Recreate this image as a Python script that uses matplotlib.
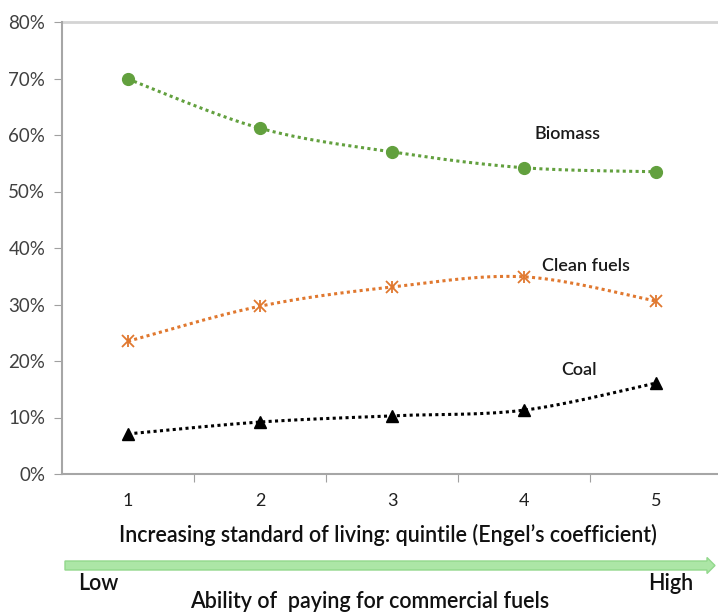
import numpy as np
import matplotlib.pyplot as plt
from matplotlib.patches import FancyArrow

# Data (share of households, %)
quintiles = [1, 2, 3, 4, 5]
biomass = [69.9, 61.2, 57.0, 54.2, 53.5]
clean_fuels = [23.5, 29.7, 33.1, 34.9, 30.6]
coal = [7.1, 9.2, 10.3, 11.3, 16.1]
y_ticks = [0, 10, 20, 30, 40, 50, 60, 70, 80]

plt.rcParams['font.family'] = ['Lato', 'DejaVu Sans']


def smooth(xs, ys, n=40):
    """Excel-style smoothed line (Catmull-Rom as cubic Bezier)."""
    xs = np.asarray(xs, float)
    ys = np.asarray(ys, float)
    px = np.concatenate([[xs[0]], xs, [xs[-1]]])
    py = np.concatenate([[ys[0]], ys, [ys[-1]]])
    out_x, out_y = [], []
    t = np.linspace(0, 1, n)
    for i in range(1, len(px) - 2):
        p0 = np.array([px[i], py[i]])
        p3 = np.array([px[i + 1], py[i + 1]])
        c1 = p0 + (np.array([px[i + 1], py[i + 1]]) - np.array([px[i - 1], py[i - 1]])) / 6
        c2 = p3 - (np.array([px[i + 2], py[i + 2]]) - np.array([px[i], py[i]])) / 6
        b = ((1 - t) ** 3)[:, None] * p0 + (3 * (1 - t) ** 2 * t)[:, None] * c1 \
            + (3 * (1 - t) * t ** 2)[:, None] * c2 + (t ** 3)[:, None] * p3
        out_x.extend(b[:, 0])
        out_y.extend(b[:, 1])
    return out_x, out_y


fig = plt.figure(figsize=(7.18, 6.14), dpi=100)
ax = fig.add_axes([62 / 718, 140 / 614, 656 / 718, 452 / 614])

green = '#62a03e'
orange = '#e0782f'
dots = (0, (1, 1.1))

sx, sy = smooth(quintiles, biomass)
ax.plot(sx, sy, color=green, lw=2.2, ls=dots)
ax.plot(quintiles, biomass, 'o', color=green, ms=8.5)

sx, sy = smooth(quintiles, clean_fuels)
ax.plot(sx, sy, color=orange, lw=2.2, ls=dots)
ax.plot(quintiles, clean_fuels, 'x', color=orange, ms=8, mew=1.3)
ax.plot(quintiles, clean_fuels, '|', color=orange, ms=9, mew=1.3)

sx, sy = smooth(quintiles, coal)
ax.plot(sx, sy, color='black', lw=2.2, ls=dots)
ax.plot(quintiles, coal, '^', color='black', ms=8.5)

lab = dict(ha='center', va='center', fontsize=13, color='#1a1a1a', fontweight='semibold')
ax.text(4.33, 60.2, 'Biomass', **lab)
ax.text(4.47, 36.8, 'Clean fuels', **lab)
ax.text(4.42, 18.4, 'Coal', **lab)

ax.set_xlim(0.5, 0.5 + 656 / 132)
ax.set_ylim(0, 80)
ax.set_yticks(y_ticks)
ax.set_yticklabels([f'{v}%' for v in y_ticks], fontsize=13.5, color='#404040')
ax.set_xticks([1.5, 2.5, 3.5, 4.5])
ax.set_xticklabels([])
ax.set_xticks(quintiles, minor=True)
ax.set_xticklabels([str(q) for q in quintiles], minor=True, fontsize=13, color='#202020')
ax.tick_params(axis='x', which='minor', length=0, pad=14)
ax.tick_params(axis='x', which='major', length=6, color='#a0a0a0', direction='out')
ax.tick_params(axis='y', length=6, color='#a0a0a0', direction='out', pad=6)

for side in ['right', 'top']:
    ax.spines[side].set_visible(False)
ax.spines['left'].set_color('#a6a6a6')
ax.spines['bottom'].set_color('#a6a6a6')
ax.spines['left'].set_linewidth(1.5)
ax.spines['bottom'].set_linewidth(1.5)
ax.axhline(80, color='#d4d4d4', lw=2, clip_on=False)

# Texts and arrow below the plot
big = dict(ha='center', va='center', fontsize=15.5, color='#111111', fontweight='semibold')
fig.text(388 / 718, 1 - 535 / 614, "Increasing standard of living: quintile (Engel\u2019s coefficient)", **big)
arrow = FancyArrow(65 / 718, 1 - 565.5 / 614, 650 / 718, 0, width=9 / 614,
                   head_width=16 / 614, head_length=8 / 718, length_includes_head=True,
                   transform=fig.transFigure, facecolor='#acE6a6', edgecolor='#92d88c', lw=1)
fig.patches.append(arrow)
fig.text(98 / 718, 1 - 583 / 614, 'Low', **big)
fig.text(671 / 718, 1 - 583 / 614, 'High', **big)
fig.text(370 / 718, 1 - 601 / 614, 'Ability of  paying for commercial fuels', **big)

fig.savefig('out.png', dpi=100)
